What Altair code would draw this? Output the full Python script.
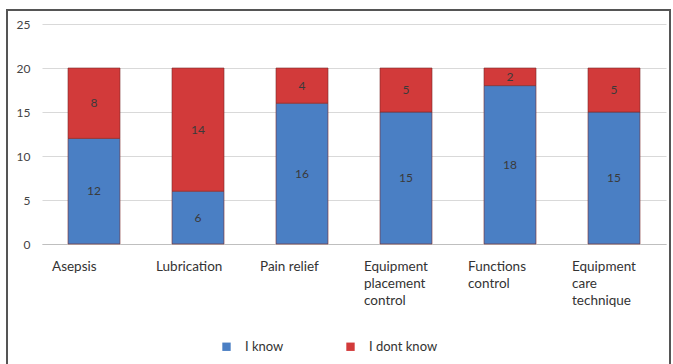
import altair as alt
import pandas as pd

categories = ["Asepsis", "Lubrication", "Pain relief", "Equipment\nplacement\ncontrol",
              "Functions\ncontrol", "Equipment\ncare\ntechnique"]
know = [12, 6, 16, 15, 18, 15]
dont_know = [8, 14, 4, 5, 2, 5]
series = ["I know", "I dont know"]
y_ticks = [0, 5, 10, 15, 20, 25]

rows = []
for i, c in enumerate(categories):
    rows.append({"cat": c, "series": series[0], "value": know[i], "ord": 0})
    rows.append({"cat": c, "series": series[1], "value": dont_know[i], "ord": 1})
df = pd.DataFrame(rows)

FONT = "Lato"
color = alt.Color("series:N", scale=alt.Scale(domain=series, range=["#4a7fc4", "#d23a3a"]),
                  legend=alt.Legend(title=None, orient="none", direction="horizontal",
                                    legendX=178, legendY=316, symbolType="square",
                                    symbolSize=70, labelFontSize=13, labelFont=FONT,
                                    labelColor="#333333", columnPadding=60, labelOffset=12,
                                    symbolStrokeWidth=0))

xenc = alt.X("cat:N", sort=categories,
             scale=alt.Scale(paddingInner=0.5, paddingOuter=0.25),
             axis=alt.Axis(title=None, labelAngle=0, labelAlign="left", labelOffset=-42,
                           labelExpr="split(datum.label, '\\n')", labelFont=FONT,
                           labelFontSize=13.5, labelColor="#333333", labelPadding=15,
                           labelLineHeight=17, ticks=False, domainColor="#bfbfbf",
                           labelBaseline="top"))

base = alt.Chart(df).transform_stack(
    stack="value", groupby=["cat"], as_=["y0", "y1"], sort=[alt.SortField("ord")]
).transform_calculate(mid="(datum.y0 + datum.y1) / 2")

yscale = alt.Scale(domain=[0, 25])

bars = base.mark_bar(stroke="#7a2a2a", strokeWidth=0.6).encode(
    x=xenc,
    y=alt.Y("y0:Q", scale=yscale,
            axis=alt.Axis(title=None, values=y_ticks, grid=True, gridColor="#d9d9d9",
                          domain=False, ticks=False, labelFont=FONT, labelFontSize=12,
                          labelColor="#444444", labelPadding=12)),
    y2="y1:Q",
    color=color,
)

texts = base.mark_text(font=FONT, fontSize=12, color="#3a3a3a").encode(
    x=alt.X("cat:N", sort=categories),
    y=alt.Y("mid:Q", scale=yscale),
    text="value:Q",
)

frame = alt.Chart(df).mark_rect(fill=None, stroke="#555555", strokeWidth=1.5, clip=False).encode(
    x=alt.value(-35), x2=alt.value(628), y=alt.value(-14), y2=alt.value(360)
)

chart = alt.layer(bars, texts, frame).properties(
    width=624, height=220,
    autosize=alt.AutoSizeParams(type="none"),
    padding={"left": 42, "top": 24, "right": 7, "bottom": 120},
    background="white",
).configure_view(stroke=None)

chart.save("out.html", embed_options={"renderer": "svg", "actions": False})
